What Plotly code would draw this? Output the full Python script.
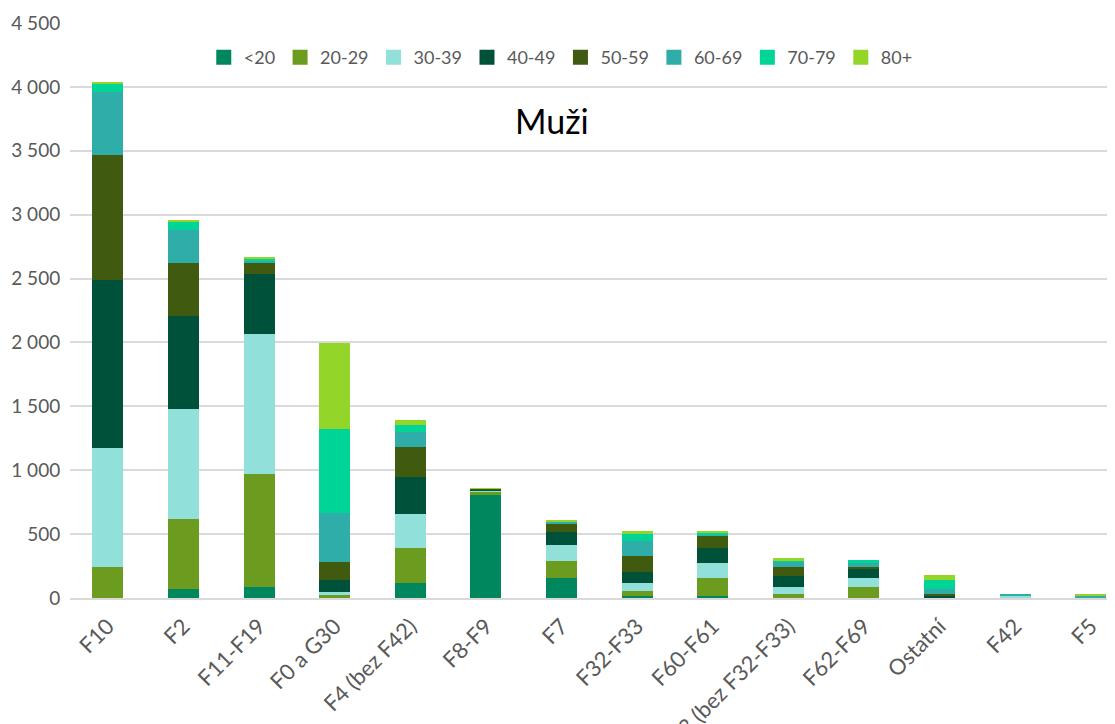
import plotly.graph_objects as go

categories = ["F10", "F2", "F11-F19", "F0 a G30", "F4 (bez F42)", "F8-F9", "F7",
              "F32-F33", "F60-F61", "F3 (bez F32-F33)", "F62-F69", "Ostatní", "F42", "F5"]

age_groups = ["<20", "20-29", "30-39", "40-49", "50-59", "60-69", "70-79", "80+"]

v_lt20 = [0, 69, 85, 3, 118, 809, 156, 16, 16, 3, 3, 0, 0, 0]
v_20_29 = [241, 548, 887, 18, 275, 24, 133, 39, 140, 31, 86, 0, 0, 0]
v_30_39 = [932, 864, 1097, 29, 267, 5, 125, 62, 117, 55, 70, 3, 16, 0]
v_40_49 = [1312, 728, 469, 94, 290, 10, 102, 86, 118, 86, 71, 13, 0, 0]
v_50_59 = [985, 416, 87, 134, 228, 8, 70, 125, 93, 70, 15, 16, 0, 0]
v_60_69 = [488, 257, 19, 385, 118, 2, 13, 117, 16, 40, 29, 39, 8, 16]
v_70_79 = [61, 64, 13, 659, 55, 1, 3, 55, 5, 7, 26, 70, 0, 0]
v_80p = [23, 8, 8, 676, 39, 1, 10, 23, 18, 23, 0, 39, 0, 8]

series = [v_lt20, v_20_29, v_30_39, v_40_49, v_50_59, v_60_69, v_70_79, v_80p]
colors = ["#00875E", "#6B9C1F", "#91E1DA", "#00513A", "#405B10", "#2FADA8", "#00D496", "#94D52A"]

title_text = "Muži"
y_ticks = [0, 500, 1000, 1500, 2000, 2500, 3000, 3500, 4000, 4500]

FONT = "Lato, 'Open Sans', sans-serif"
GRAY = "#595959"

fig = go.Figure()
for name, vals, col in zip(age_groups, series, colors):
    fig.add_trace(go.Bar(x=categories, y=vals, name=name, legendgroup=name, showlegend=False,
                         marker=dict(color=col, line=dict(width=0))))
# legend entries (square swatches)
for name, col in zip(age_groups, colors):
    fig.add_trace(go.Scatter(x=[None], y=[None], mode="markers", name=name, legendgroup=name,
                             marker=dict(symbol="square", size=15, color=col), showlegend=True,
                             hoverinfo="skip"))

fig.update_layout(
    barmode="stack",
    bargap=0.59,
    width=1107, height=716,
    margin=dict(l=62, r=0, t=15, b=126),
    paper_bgcolor="white", plot_bgcolor="white",
    separators=", ",
    font=dict(family=FONT, color=GRAY, size=16),
    showlegend=True,
    legend=dict(orientation="h", x=0.128, xanchor="left", y=0.940, yanchor="middle",
                font=dict(family=FONT, size=18, color=GRAY), traceorder="normal",
                itemwidth=30, bgcolor="rgba(0,0,0,0)"),
    annotations=[dict(text=title_text, xref="paper", yref="paper", x=0.461, y=0.831,
                      xanchor="center", yanchor="middle",
                      showarrow=False, font=dict(family=FONT, size=34, color="#000000"))],
)
fig.update_xaxes(range=[-0.5, 13.32], tickangle=-45, showgrid=False, showline=True,
                 linecolor="#D9D9D9", linewidth=1.5, ticks="outside", ticklen=5,
                 tickcolor="rgba(0,0,0,0)", automargin=False,
                 tickfont=dict(family=FONT, size=22, color=GRAY))
fig.update_yaxes(range=[0, 4500], tickvals=y_ticks, tickformat=",", showgrid=True,
                 gridcolor="#D9D9D9", gridwidth=1.5, zeroline=False, showline=False,
                 ticks="outside", ticklen=5, tickcolor="rgba(0,0,0,0)", automargin=False,
                 tickfont=dict(family=FONT, size=19, color=GRAY))

fig.write_html("out.html")
